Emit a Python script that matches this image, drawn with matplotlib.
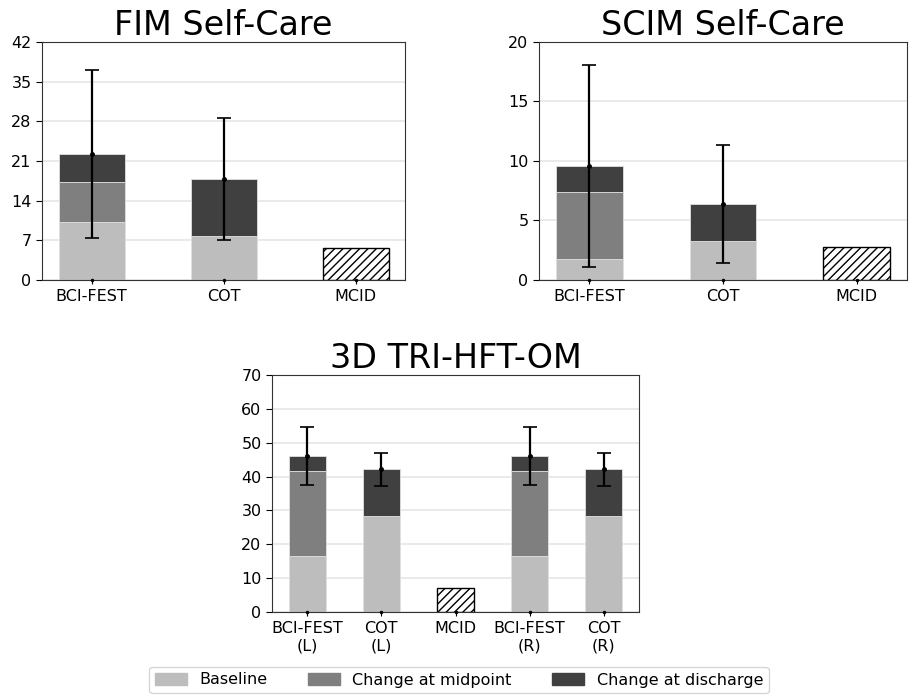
import matplotlib
matplotlib.use("Agg")
import matplotlib.pyplot as plt
import numpy as np
from matplotlib.patches import Patch

# FIM Self-Care
fim_labels = ["BCI-FEST", "COT", "MCID"]
fim_baseline = [10.2, 7.8]
fim_mid = [7.1, 0.0]
fim_dis = [4.9, 10.0]
fim_err = [14.8, 10.8]
fim_mcid = 5.65
fim_ticks = [0, 7, 14, 21, 28, 35, 42]

# SCIM Self-Care
scim_labels = ["BCI-FEST", "COT", "MCID"]
scim_baseline = [1.77, 3.25]
scim_mid = [5.6, 0.0]
scim_dis = [2.23, 3.14]
scim_err = [8.5, 4.97]
scim_mcid = 2.8
scim_ticks = [0, 5, 10, 15, 20]

# 3D TRI-HFT-OM
tri_labels = ["BCI-FEST\n(L)", "COT\n(L)", "MCID", "BCI-FEST\n(R)", "COT\n(R)"]
tri_baseline = [16.4, 28.5, 16.4, 28.5]
tri_mid = [25.3, 0.0, 25.3, 0.0]
tri_dis = [4.3, 13.6, 4.3, 13.6]
tri_err = [8.5, 5.0, 8.5, 5.0]
tri_mcid = 7.0
tri_ticks = [0, 10, 20, 30, 40, 50, 60, 70]

C_BASE = "#bdbdbd"
C_MID = "#7f7f7f"
C_DIS = "#404040"

fig = plt.figure(figsize=(9.09, 6.95), dpi=100)
W, H = 909, 695

def add_ax(x0, y0, x1, y1):
    return fig.add_axes([x0 / W, 1 - y1 / H, (x1 - x0) / W, (y1 - y0) / H])

def draw(ax, labels, base, mid, dis, err, mcid, ticks, title, mcid_idx):
    n = len(labels)
    grp = [i for i in range(n) if i != mcid_idx]
    base = np.array(base); mid = np.array(mid); dis = np.array(dis)
    ax.set_axisbelow(True)
    ax.yaxis.grid(True, color="#e6e6e6", linewidth=1.2)
    ax.bar(grp, base, width=0.5, color=C_BASE, edgecolor="#e0e0e0", linewidth=0.6)
    ax.bar(grp, mid, width=0.5, bottom=base, color=C_MID, edgecolor="#e0e0e0", linewidth=0.6)
    ax.bar(grp, dis, width=0.5, bottom=base + mid, color=C_DIS, edgecolor="#e0e0e0", linewidth=0.6)
    total = base + mid + dis
    ax.errorbar(grp, total, yerr=err, fmt=".", color="black", ecolor="black",
                capsize=5, elinewidth=1.6, capthick=1.2, markersize=5, zorder=5)
    ax.bar([mcid_idx], [mcid], width=0.5, color="white", edgecolor="black",
           hatch="////", linewidth=1.0)
    ax.plot(range(n), [0] * n, ".", color="black", markersize=3, clip_on=False, zorder=6)
    ax.set_xticks(range(n))
    ax.set_xticklabels(labels, fontsize=11.5)
    ax.set_yticks(ticks)
    ax.set_ylim(ticks[0], ticks[-1])
    ax.tick_params(axis="y", labelsize=11.5, length=4)
    ax.tick_params(axis="x", length=3)
    ax.set_title(title, fontsize=24, pad=2)
    for s in ax.spines.values():
        s.set_color("#333333")

ax1 = add_ax(42, 42, 405, 280)
draw(ax1, fim_labels, fim_baseline, fim_mid, fim_dis, fim_err, fim_mcid, fim_ticks, "FIM Self-Care", 2)
ax2 = add_ax(539, 42, 907, 280)
draw(ax2, scim_labels, scim_baseline, scim_mid, scim_dis, scim_err, scim_mcid, scim_ticks, "SCIM Self-Care", 2)
ax3 = add_ax(272, 375, 639, 612)
draw(ax3, tri_labels, tri_baseline, tri_mid, tri_dis, tri_err, tri_mcid, tri_ticks, "3D TRI-HFT-OM", 2)

handles = [Patch(color=C_BASE, label="Baseline"),
           Patch(color=C_MID, label="Change at midpoint"),
           Patch(color=C_DIS, label="Change at discharge")]
fig.legend(handles=handles, ncol=3, loc="center", bbox_to_anchor=(459 / W, 1 - 680 / H),
           fontsize=11.5, frameon=True, edgecolor="#cccccc", columnspacing=2.5,
           handlelength=2.0, borderpad=0.35)

fig.savefig("out.png", dpi=100, facecolor="white")
